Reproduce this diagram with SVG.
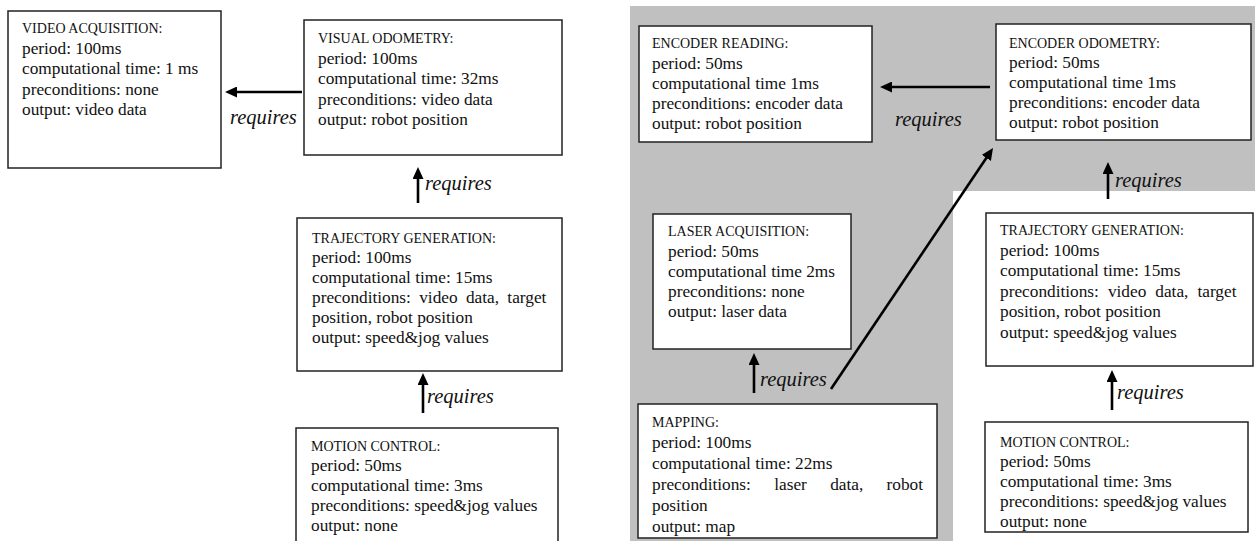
<svg xmlns="http://www.w3.org/2000/svg" width="1255" height="541" viewBox="0 0 1255 541">
<style>
.box{fill:#fff;stroke:#222;stroke-width:1.5}
.t{font-family:"Liberation Serif","Times New Roman",serif;fill:#111}
.h{font-size:14px}
.b{font-size:17.3px}
.req{font-family:"Liberation Serif","Times New Roman",serif;font-size:20.5px;font-style:italic;fill:#111}
.arr{stroke:#000;stroke-width:2.6;fill:none;marker-end:url(#ah)}
</style>
<defs>
<marker id="ah" markerUnits="userSpaceOnUse" markerWidth="12" markerHeight="11" viewBox="0 0 12 11" refX="3" refY="5.5" orient="auto">
<path d="M0,0 L12,5.5 L0,11 Z" fill="#000"/>
</marker>
</defs>
<rect width="1255" height="541" fill="#fff"/>
<path id="shade" d="M630,6 H1255 V191 H953 V541 H630 Z" fill="#c0c0c0"/>

<g id="video-acquisition">
<rect class="box" x="8" y="11" width="213" height="157"/>
<text class="t h" x="22" y="33">VIDEO ACQUISITION:</text>
<text class="t b" x="22" y="53.5">period: 100ms</text>
<text class="t b" x="22" y="74">computational time: 1 ms</text>
<text class="t b" x="22" y="94.5">preconditions: none</text>
<text class="t b" x="22" y="115">output: video data</text>
</g>

<g id="visual-odometry">
<rect class="box" x="304" y="20" width="258" height="135"/>
<text class="t h" x="318" y="43">VISUAL ODOMETRY:</text>
<text class="t b" x="318" y="63.5">period: 100ms</text>
<text class="t b" x="318" y="84">computational time: 32ms</text>
<text class="t b" x="318" y="104.5">preconditions: video data</text>
<text class="t b" x="318" y="125">output: robot position</text>
</g>

<g id="trajectory-generation-left">
<rect class="box" x="297" y="218" width="265" height="153"/>
<text class="t h" x="312" y="243">TRAJECTORY GENERATION:</text>
<text class="t b" x="312" y="263">period: 100ms</text>
<text class="t b" x="312" y="283">computational time: 15ms</text>
<text class="t b" x="312" y="303" word-spacing="4">preconditions: video data, target</text>
<text class="t b" x="312" y="323">position, robot position</text>
<text class="t b" x="312" y="343">output: speed&amp;jog values</text>
</g>

<g id="motion-control-left">
<rect class="box" x="296" y="428" width="262" height="120"/>
<text class="t h" x="311" y="451">MOTION CONTROL:</text>
<text class="t b" x="311" y="471">period: 50ms</text>
<text class="t b" x="311" y="491">computational time: 3ms</text>
<text class="t b" x="311" y="511">preconditions: speed&amp;jog values</text>
<text class="t b" x="311" y="531">output: none</text>
</g>

<g id="encoder-reading">
<rect class="box" x="639" y="26" width="233" height="116"/>
<text class="t h" x="652" y="48">ENCODER READING:</text>
<text class="t b" x="652" y="68.5">period: 50ms</text>
<text class="t b" x="652" y="89">computational time 1ms</text>
<text class="t b" x="652" y="109">preconditions: encoder data</text>
<text class="t b" x="652" y="129">output: robot position</text>
</g>

<g id="encoder-odometry">
<rect class="box" x="996" y="24" width="255" height="116"/>
<text class="t h" x="1009" y="48">ENCODER ODOMETRY:</text>
<text class="t b" x="1009" y="68">period: 50ms</text>
<text class="t b" x="1009" y="88">computational time 1ms</text>
<text class="t b" x="1009" y="108">preconditions: encoder data</text>
<text class="t b" x="1009" y="128">output: robot position</text>
</g>

<g id="laser-acquisition">
<rect class="box" x="653" y="214" width="198" height="135"/>
<text class="t h" x="668" y="236">LASER ACQUISITION:</text>
<text class="t b" x="668" y="256.5">period: 50ms</text>
<text class="t b" x="668" y="277">computational time 2ms</text>
<text class="t b" x="668" y="297">preconditions: none</text>
<text class="t b" x="668" y="317">output: laser data</text>
</g>

<g id="mapping">
<rect class="box" x="638" y="404" width="299" height="134"/>
<text class="t h" x="652" y="427">MAPPING:</text>
<text class="t b" x="652" y="448">period: 100ms</text>
<text class="t b" x="652" y="469">computational time: 22ms</text>
<text class="t b" x="652" y="490" word-spacing="19">preconditions: laser data, robot</text>
<text class="t b" x="652" y="511">position</text>
<text class="t b" x="652" y="532">output: map</text>
</g>

<g id="trajectory-generation-right">
<rect class="box" x="986" y="213" width="267" height="153"/>
<text class="t h" x="1000" y="235">TRAJECTORY GENERATION:</text>
<text class="t b" x="1000" y="255.5">period: 100ms</text>
<text class="t b" x="1000" y="276">computational time: 15ms</text>
<text class="t b" x="1000" y="296.5" word-spacing="4.7">preconditions: video data, target</text>
<text class="t b" x="1000" y="317">position, robot position</text>
<text class="t b" x="1000" y="337.5">output: speed&amp;jog values</text>
</g>

<g id="motion-control-right">
<rect class="box" x="985" y="422" width="263" height="110"/>
<text class="t h" x="1000" y="447">MOTION CONTROL:</text>
<text class="t b" x="1000" y="467">period: 50ms</text>
<text class="t b" x="1000" y="487">computational time: 3ms</text>
<text class="t b" x="1000" y="507">preconditions: speed&amp;jog values</text>
<text class="t b" x="1000" y="527">output: none</text>
</g>

<g id="connectors">
<line class="arr" x1="302" y1="92" x2="234" y2="92"/>
<text class="req" x="230" y="124">requires</text>
<line class="arr" x1="418" y1="203" x2="418" y2="176"/>
<text class="req" x="425" y="190">requires</text>
<line class="arr" x1="423" y1="413" x2="423" y2="382"/>
<text class="req" x="427" y="403">requires</text>
<line class="arr" x1="990" y1="87" x2="889" y2="87"/>
<text class="req" x="895" y="126">requires</text>
<line class="arr" x1="1108" y1="199" x2="1108" y2="171"/>
<text class="req" x="1115" y="187">requires</text>
<line class="arr" x1="754" y1="393" x2="754" y2="362"/>
<text class="req" x="760" y="386">requires</text>
<line class="arr" x1="831" y1="389" x2="988" y2="155.5"/>
<line class="arr" x1="1112" y1="410" x2="1112" y2="379"/>
<text class="req" x="1117" y="399">requires</text>
</g>
</svg>
